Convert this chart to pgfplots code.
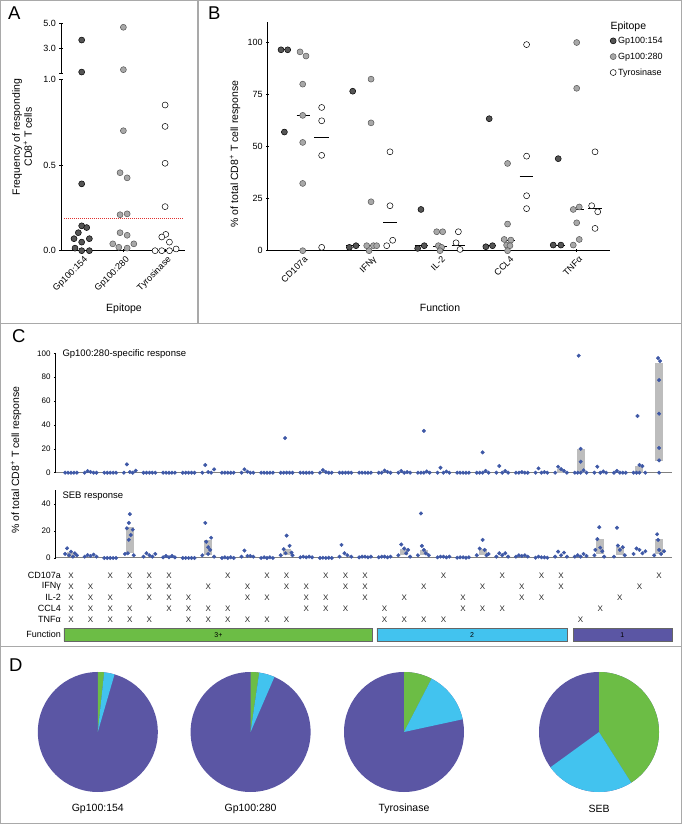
\documentclass[border=0pt]{standalone}
\usepackage{fontspec}
\setmainfont{Liberation Sans}
\usepackage{pgfplots}
\pgfplotsset{compat=1.18}

\definecolor{dk}{HTML}{555555}
\definecolor{md}{HTML}{A8A8A8}
\definecolor{ptblue}{RGB}{62,88,166}
\definecolor{bargray}{HTML}{BDBDBD}
\definecolor{fgreen}{HTML}{6CBD45}
\definecolor{fcyan}{HTML}{42C3EF}
\definecolor{fpurple}{HTML}{5B56A4}
\definecolor{framegray}{HTML}{A9A9A9}
\definecolor{thr}{HTML}{E03030}

\pgfplotsset{
  every non boxed x axis/.append style={x axis line style=-},
  every non boxed y axis/.append style={y axis line style=-},
  every axis/.append style={
    scale only axis, anchor=south west, clip=false,
    /pgf/number format/assume math mode=true,
    tick label style={font=\fontsize{9}{10}\selectfont},
    axis line style={line width=0.7pt},
    tick style={black, line width=0.6pt},
    major tick length=3pt,
    tick align=outside,
  },
  g154/.style={only marks, mark=*, mark size=3pt, mark options={fill=dk, draw=black, line width=0.5pt}},
  g280/.style={only marks, mark=*, mark size=3pt, mark options={fill=md, draw=dk, line width=0.5pt}},
  gtyr/.style={only marks, mark=*, mark size=3pt, mark options={fill=white, draw=black, line width=0.5pt}},
  cpt/.style={only marks, mark=*, mark size=1.8pt, mark options={fill=ptblue, draw=ptblue}},
  cbar/.style={bargray, line width=8pt, unbounded coords=jump, forget plot},
}

\newcommand{\lbl}{\fontsize{10.5}{12}\selectfont}
\newcommand{\ttl}{\fontsize{9.5}{11}\selectfont}
\newcommand{\pieaxis}[4]{%
\begin{axis}[at={({(#1-60)*1pt},32pt)}, width=120pt, height=120pt,
  xmin=-1, xmax=1, ymin=-1, ymax=1, hide axis]
  \fill[fpurple] (axis cs:0,0) circle[radius=60pt];
  \fill[fgreen] (axis cs:0,0) -- ++(90:60pt) arc[start angle=90, end angle={90-3.6*#2}, radius=60pt] -- cycle;
  \fill[fcyan] (axis cs:0,0) -- ++({90-3.6*#2}:60pt) arc[start angle={90-3.6*#2}, end angle={90-3.6*#3}, radius=60pt] -- cycle;
\end{axis}
\node[font=\lbl] at ({#1*1pt},15pt) {#4};
}

\begin{document}
\begin{tikzpicture}
\useasboundingbox (0pt,0pt) rectangle (682pt,824pt);
\begin{scope}[x=1pt,y=1pt]
\draw[framegray, line width=1.3pt] (0.7,0.7) rectangle (681.3,823.3);
\draw[framegray, line width=1.1pt] (198,823.3) -- (198,500.7);
\draw[framegray, line width=1.1pt] (0.7,500.7) -- (681.3,500.7);
\draw[framegray, line width=1.1pt] (0.7,177.3) -- (681.3,177.3);
\node[anchor=south west, inner sep=0pt, font=\fontsize{18.5}{18}\selectfont] at (8,804) {A};
\node[anchor=south west, inner sep=0pt, font=\fontsize{18.5}{18}\selectfont] at (208,804) {B};
\node[anchor=south west, inner sep=0pt, font=\fontsize{18.5}{18}\selectfont] at (12,481) {C};
\node[anchor=south west, inner sep=0pt, font=\fontsize{18.5}{18}\selectfont] at (9,152) {D};
\node[font=\lbl, rotate=90, align=center] at (22,687) {Frequency of responding\\CD8\textsuperscript{+} T cells};
\node[font=\lbl] at (124,515) {Epitope};
\node[font=\lbl, anchor=west] at (607,797) {Epitope};
\node[font=\lbl, rotate=90] at (235,670) {\% of total CD8\textsuperscript{+} T cell response};
\node[font=\lbl] at (440,516) {Function};
\node[font=\ttl, anchor=west] at (59,470) {Gp100:280-specific response};
\node[font=\ttl, anchor=west] at (59,328.3) {SEB response};
\node[font=\lbl, rotate=90] at (16,364) {\% of total CD8\textsuperscript{+} T cell response};
\end{scope}

% ---------------- A ----------------
\begin{axis}[at={(61pt,573.3pt)}, width=124pt, height=171.4pt,
  xmin=0.504, xmax=3.477, ymin=0, ymax=1,
  axis x line=bottom, axis y line=left,
  xtick={1,2,3}, xticklabels={Gp100:154,Gp100:280,Tyrosinase},
  x tick label style={rotate=45, anchor=north east, inner sep=1pt, yshift=-2.5pt},
  ytick={0,0.5,1},
  yticklabel style={/pgf/number format/.cd, fixed, fixed zerofill, precision=1}]
\addplot[thr, densely dotted, line width=1pt] coordinates {(0.576,0.185) (3.453,0.185)};
\addplot[g154] coordinates {(1,0.39)(1,0.145)(1.12,0.135)(0.92,0.105)(0.816,0.07)(1.184,0.07)(1,0.05)(0.84,0.015)(1,0)(1.184,0)};
\addplot[g280] coordinates {(2,0.70)(1.92,0.455)(2.09,0.425)(1.92,0.21)(2.09,0.215)(1.92,0.105)(2.09,0.09)(1.745,0.04)(2.25,0.04)(1.89,0.02)(2.09,0.015)};
\addplot[gtyr] coordinates {(3,0.85)(3,0.725)(3,0.51)(3,0.257)(3.016,0.095)(2.92,0.08)(3.104,0.05)(2.76,0)(2.92,0)(3.104,0)(3.264,0.01)};
\end{axis}
\begin{axis}[at={(61pt,750.7pt)}, width=124pt, height=50pt,
  xmin=0.504, xmax=3.477, ymin=1, ymax=5,
  axis x line=none, axis y line=left,
  ytick={3,5}, extra y ticks={1}, extra y tick labels={},
  yticklabel style={/pgf/number format/.cd, fixed, fixed zerofill, precision=1}]
\addplot[g154] coordinates {(1,3.66)(1,1.1)};
\addplot[g280] coordinates {(2,4.68)(2,1.29)};
\end{axis}

% ---------------- B ----------------
\begin{axis}[at={(267.7pt,573.3pt)}, width=342.3pt, height=229pt,
  xmin=0.5, xmax=5.485, ymin=0, ymax=110,
  axis x line=bottom, axis y line=left,
  xtick={1,2,3,4,5}, xticklabels={CD107a,IFNγ,IL-2,CCL4,TNFα},
  x tick label style={rotate=45, anchor=north east, inner sep=1pt, yshift=-2.5pt},
  ytick={0,25,50,75,100},
  legend style={draw=none, fill=none, at={(1.0,0.943)}, anchor=north west,
    font=\fontsize{9}{10}\selectfont, row sep=4pt, inner sep=0pt},
  legend cell align=left,
  legend image code/.code={\draw[#1] plot coordinates {(4pt,0pt)};}]
\addplot[black, line width=0.9pt, unbounded coords=jump, forget plot] coordinates {
 (0.643,96.5)(0.843,96.5) (0.8,nan) (0.92,65)(1.12,65) (1.2,nan) (1.18,54.4)(1.39,54.4) (1.5,nan)
 (1.64,2.4)(1.84,2.4) (1.85,nan) (1.9,2.4)(2.1,2.4) (2.15,nan) (2.18,13.6)(2.38,13.6) (2.5,nan)
 (2.64,2.4)(2.83,2.4) (2.85,nan) (2.91,2)(3.11,2) (3.15,nan) (3.18,2.4)(3.38,2.4) (3.5,nan)
 (3.63,2.4)(3.83,2.4) (3.85,nan) (3.9,5)(4.1,5) (4.15,nan) (4.17,35.8)(4.37,35.8) (4.5,nan)
 (4.63,2.7)(4.83,2.7) (4.85,nan) (4.9,20)(5.1,20) (5.15,nan) (5.17,20.3)(5.37,20.3)};
\addplot[g154] coordinates {
 (0.694,96.5)(0.791,96.5)(0.743,57)
 (1.738,76.6)(1.689,1.6)(1.786,2.4)
 (2.732,19.8)(2.78,2.4)(2.684,1.1)
 (3.726,63.4)(3.677,1.9)(3.774,2.4)
 (4.731,44.2)(4.658,2.7)(4.77,2.7)};
\addplot[g280] coordinates {
 (0.971,95.5)(1.058,93.5)(1.01,80)(1.01,65)(1.01,52)(1.01,32.3)(1.01,0)
 (2.005,82.4)(2.005,61.4)(2.005,23.5)(1.942,2.4)(2.039,2.4)(2.087,2.4)(1.976,0)
 (2.961,9.1)(3.048,9.1)(2.985,2.4)(3.033,1.6)(3.009,0)
 (3.993,41.9)(3.993,12.8)(3.944,5.4)(4.041,5.1)(3.979,2.7)(4.028,2.4)(3.993,0)
 (5.0,100)(5.0,78)(4.95,19.8)(5.037,21)(5.0,13.4)(5.037,5.4)(4.95,2.7)};
\addplot[gtyr] coordinates {
 (1.286,68.8)(1.286,62.4)(1.286,45.8)(1.286,1.6)
 (2.281,47.5)(2.281,21.6)(2.233,2.4)(2.32,5)
 (3.277,9.1)(3.243,3.8)(3.301,0.6)
 (4.27,99)(4.27,45.4)(4.27,26.4)(4.27,20.2)
 (5.218,21.6)(5.306,18.7)(5.267,47.5)(5.267,10.7)};
\legend{Gp100:154,Gp100:280,Tyrosinase}
\end{axis}

% ---------------- C upper ----------------
\begin{axis}[at={(55pt,351.3pt)}, width=617pt, height=119.4pt,
  xmin=0.184, xmax=31.66, ymin=0, ymax=100,
  axis x line=bottom, axis y line=left,
  x axis line style={gray, line width=1pt},
  tick label style={font=\fontsize{8}{9}\selectfont},
  xtick=\empty, ytick={0,20,...,100}, major tick length=2pt]
\addplot[cbar] coordinates {(26,0)(26,3) (26.5,nan) (27,0)(27,20) (27.5,nan) (30,0)(30,6) (30.5,nan) (31,10)(31,92)};
\addplot[cpt] coordinates {
(0.7,0)(0.85,0)(1,0)(1.15,0)(1.3,0)
(1.7,0)(1.85,1.4)(2,0.6)(2.15,0)(2.3,0)
(2.7,0)(2.85,0)(3,0)(3.15,0)(3.3,0)
(3.7,0)(3.85,7)(4,0.5)(4.15,0)(4.3,1.7)
(4.7,0)(4.85,0)(5,0)(5.15,0)(5.3,0)
(5.7,0)(5.85,0)(6,0)(6.15,0)(6.3,0)
(6.7,0)(6.85,0)(7,0)(7.15,0)(7.3,0)
(7.7,0)(7.85,6.4)(8,0.5)(8.15,0)(8.3,2.8)
(8.7,0)(8.85,0)(9,0)(9.15,0)(9.3,0)
(9.7,0)(9.85,2.8)(10,0.8)(10.15,0)(10.3,0)
(10.7,0)(10.85,0)(11,0)(11.15,0)(11.3,0)
(11.7,0)(11.85,0)(11.92,29)(12,0)(12.15,0)(12.3,0)
(12.7,0)(12.85,0)(13,0)(13.15,0)(13.3,0)
(13.7,0)(13.85,2.2)(14,0.5)(14.15,0)(14.3,0)
(14.7,0)(14.85,0)(15,0)(15.15,0)(15.3,0)
(15.7,0)(15.85,0)(16,0)(16.15,0)(16.3,0)
(16.7,0)(16.85,0)(17,1.8)(17.15,0.6)(17.3,0)
(17.7,0)(17.85,1.5)(18,0)(18.15,0.5)(18.3,0)
(18.7,0)(18.85,0)(19,35)(19,0)(19.15,1)(19.3,0)
(19.7,0)(19.85,4.2)(20,0)(20.15,1)(20.3,0)
(20.7,0)(20.85,0)(21,0)(21.15,0)(21.3,0)
(21.7,0)(21.85,0)(22,17)(22,0)(22.15,1.5)(22.3,0)
(22.7,0)(22.85,5.6)(23,0)(23.15,1.5)(23.3,0)
(23.7,0)(23.85,0)(24,0.5)(24.15,0)(24.3,0)
(24.7,0)(24.85,3.6)(25,0)(25.15,0.5)(25.3,0)
(25.7,0)(25.85,5)(26,3)(26.15,1.5)(26.3,0)
(26.7,0)(26.85,0)(26.9,98)(27,20)(27,9.2)(27,0)(27.15,2)(27.3,0)
(27.7,0)(27.85,5)(28,0)(28.15,1)(28.3,0)
(28.7,0)(28.85,1.5)(29,0)(29.15,0)(29.3,0)
(29.7,0)(29.85,0)(29.9,47.5)(30,6.5)(30,0)(30.15,5.5)(30.3,0)
(30.95,96)(31.05,93.5)(31,77.6)(31,49.4)(31,20.7)(31,10.3)(31,0)};
\end{axis}

% ---------------- C lower (SEB) ----------------
\begin{axis}[at={(55pt,266pt)}, width=617pt, height=67.5pt,
  xmin=0.184, xmax=31.66, ymin=0, ymax=50,
  axis x line=bottom, axis y line=left,
  x axis line style={gray, line width=1pt},
  tick label style={font=\fontsize{8}{9}\selectfont},
  xtick=\empty, ytick={0,20,40}, major tick length=2pt]
\addplot[cbar] coordinates {(1,1)(1,4.5) (1.5,nan) (4,3.5)(4,22.6) (4.5,nan) (8,2.5)(8,13) (8.5,nan)
 (12,2)(12,6.5) (12.5,nan) (18,2)(18,7) (18.5,nan) (19,2)(19,6) (19.5,nan) (22,2)(22,7) (22.5,nan)
 (28,3)(28,14) (28.5,nan) (29,2)(29,8) (29.5,nan) (31,3)(31,14)};
\addplot[cpt] coordinates {
(0.7,3)(0.8,7.2)(0.9,2)(1,4.7)(1.1,1)(1.2,3.5)(1.3,2)
(1.7,1)(1.85,2.2)(2,1.5)(2.15,2.5)(2.3,1)
(2.7,0)(2.85,0)(3,0)(3.15,0)(3.3,0)
(3.75,3)(3.9,3.5)(3.85,22)(3.95,26)(4,32.5)(4.05,17)(3.95,13.5)(4.15,21)(4.2,2)
(4.7,1)(4.85,3.5)(5,2)(5.15,1)(5.3,3)
(5.7,0.5)(5.85,1.5)(6,0.5)(6.15,1.5)(6.3,0.5)
(6.7,0)(6.85,0)(7,0)(7.15,0)(7.3,0)
(7.7,2)(7.85,26)(8,8)(8.1,6)(8.15,15)(8.3,1)(7.9,12)(8,3)
(8.7,0)(8.85,0.5)(9,0)(9.15,0.5)(9.3,0)
(9.7,1)(9.85,5.5)(10,1.5)(10.15,1.5)(10.3,1)
(10.7,0)(10.85,0.5)(11,0)(11.15,0.5)(11.3,0)
(11.7,2)(11.85,6.5)(11.95,3.5)(12,16.6)(12.15,9)(12.25,4)(12.3,2)
(12.7,0.5)(12.85,1)(13,0.5)(13.15,1)(13.3,0.5)
(13.7,0)(13.85,0.2)(14,0)(14.15,0.2)(14.3,0)
(14.7,1)(14.8,9.7)(14.95,3.5)(15.1,2)(15.3,1)
(15.7,0.5)(15.85,1)(16,1)(16.15,0.5)(16.3,1)
(16.7,0.5)(16.85,1)(17,1)(17.15,0.5)(17.3,1)
(17.7,2)(17.85,10)(18,7)(18.1,3.5)(18.2,6)(18.3,1)
(18.7,2)(18.85,33)(18.9,9)(19,6)(19.1,3.5)(19.25,2)
(19.7,0.5)(19.85,1)(20,1)(20.15,0.5)(20.3,1)
(20.7,0.2)(20.85,0.5)(21,0.5)(21.15,0.2)(21.3,0.5)
(21.7,2)(21.85,7)(22,13.4)(22.1,6)(22.2,2)(22.3,3)
(22.7,1)(22.85,3.5)(23,2)(23.15,3.5)(23.3,1)
(23.7,1)(23.85,2)(24,1.5)(24.15,2)(24.3,1)
(24.7,0.2)(24.85,1)(25,0.5)(25.15,0.5)(25.3,0.2)
(25.7,1)(25.85,4.7)(26,2)(26.15,4)(26.3,1)
(26.7,1)(26.85,2)(27,1)(27.15,3)(27.3,1.5)
(27.7,2)(27.75,6)(27.85,14)(27.95,22.8)(28,7.7)(28.1,5)(28.2,1)
(28.7,1)(28.85,22.4)(28.9,9.2)(29,6)(29.15,8)(29.25,2)
(29.7,3)(29.85,7)(30,6)(30.15,3.5)(30.3,5)
(30.75,2)(30.9,17.6)(30.95,13.4)(31,6)(31.1,3)(31.25,5)};
\end{axis}

% ---------------- C grid ----------------
\begin{axis}[at={(55pt,180.5pt)}, width=617pt, height=73.7pt,
  xmin=0.184, xmax=31.66, ymin=-1.2, ymax=5.5,
  axis line style={draw=none}, xtick=\empty, major tick length=0pt,
  ytick={5,4,3,2,1,-0.4}, yticklabels={CD107a,IFNγ,IL-2,CCL4,TNFα,Function},
  yticklabel style={anchor=east, inner sep=0pt, xshift=6pt, font=\fontsize{9}{10}\selectfont},
  xx/.style={draw=none, mark=none, nodes near coords={X},
    every node near coord/.append style={anchor=center, inner sep=0pt, font=\fontsize{8}{8}\selectfont, text=black!85}}]
\addplot[xx] coordinates {(1,5)(3,5)(4,5)(5,5)(6,5)(9,5)(11,5)(12,5)(14,5)(15,5)(16,5)(20,5)(23,5)(25,5)(26,5)(31,5)};
\addplot[xx] coordinates {(1,4)(2,4)(4,4)(5,4)(6,4)(8,4)(10,4)(12,4)(13,4)(15,4)(16,4)(19,4)(22,4)(24,4)(26,4)(30,4)};
\addplot[xx] coordinates {(1,3)(2,3)(3,3)(5,3)(6,3)(7,3)(10,3)(11,3)(13,3)(14,3)(16,3)(18,3)(21,3)(24,3)(25,3)(29,3)};
\addplot[xx] coordinates {(1,2)(2,2)(3,2)(4,2)(6,2)(7,2)(8,2)(9,2)(13,2)(14,2)(15,2)(17,2)(21,2)(22,2)(23,2)(28,2)};
\addplot[xx] coordinates {(1,1)(2,1)(3,1)(4,1)(5,1)(7,1)(8,1)(9,1)(10,1)(11,1)(12,1)(17,1)(18,1)(19,1)(20,1)(27,1)};
\addplot[fill=fgreen, draw=black!60, line width=0.5pt] coordinates {(0.643,-0.99)(16.39,-0.99)(16.39,0.19)(0.643,0.19)(0.643,-0.99)};
\addplot[fill=fcyan, draw=black!60, line width=0.5pt] coordinates {(16.61,-0.99)(26.31,-0.99)(26.31,0.19)(16.61,0.19)(16.61,-0.99)};
\addplot[fill=fpurple, draw=black!60, line width=0.5pt] coordinates {(26.61,-0.99)(31.66,-0.99)(31.66,0.19)(26.61,0.19)(26.61,-0.99)};
\node[font=\fontsize{7}{8}\selectfont] at (axis cs:8.52,-0.4) {3+};
\node[font=\fontsize{7}{8}\selectfont] at (axis cs:21.46,-0.4) {2};
\node[font=\fontsize{7}{8}\selectfont] at (axis cs:29.13,-0.4) {1};
\end{axis}

% ---------------- D ----------------
\pieaxis{97.8}{1.7}{4.5}{Gp100:154}
\pieaxis{250.6}{2.3}{6.5}{Gp100:280}
\pieaxis{404}{7.6}{21.6}{Tyrosinase}
\pieaxis{599}{41}{65}{SEB}

\end{tikzpicture}
\end{document}
